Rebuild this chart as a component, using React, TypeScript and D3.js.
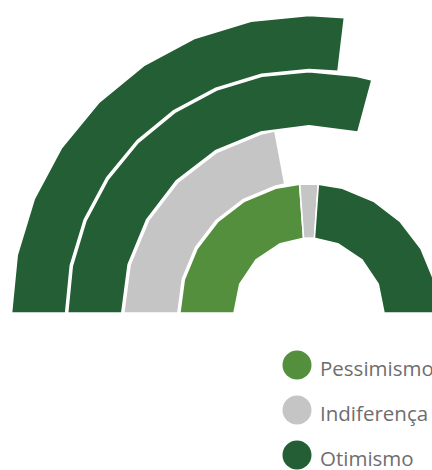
import React from "react";
import * as d3 from "d3";

const seriesNames = ["Pessimismo", "Indiferença", "Otimismo"];
const seriesColors = ["#548f3d", "#c5c5c5", "#235e34"];
const rings = ["Anel 1", "Anel 2", "Anel 3", "Anel 4"];
const pessimismo = [47.7, 0, 0, 0];
const indiferenca = [4.6, 44.1, 0, 0];
const otimismo = [47.7, 0, 58.4, 53.8];

const W = 432;
const H = 470;
const cx = 309;
const cy = 313;

export default function App() {
  const rows = rings.map((r, i) => ({
    ring: r,
    Pessimismo: pessimismo[i],
    "Indiferença": indiferenca[i],
    Otimismo: otimismo[i],
  }));
  const stack = d3.stack<any>().keys(seriesNames);
  const stacked = stack(rows);

  const angle = d3.scaleLinear().domain([0, 100]).range([-Math.PI / 2, Math.PI / 2]);
  const radial = d3.scaleBand<string>().domain(rings).range([75, 297.5]).paddingInner(0.035);

  const line = d3
    .lineRadial<[number, number]>()
    .angle((d) => d[0])
    .radius((d) => d[1])
    .curve(d3.curveLinearClosed);

  function arcPts(a0: number, a1: number, r: number): [number, number][] {
    const stepDeg = r < 100 ? 22.5 : r < 200 ? 15 : 11.25;
    const step = (stepDeg * Math.PI) / 180;
    const pts: [number, number][] = [[a0, r]];
    const start = -Math.PI / 2;
    let k = Math.floor((a0 - start) / step + 1e-9) + 1;
    while (start + k * step < a1 - 1e-6) {
      pts.push([start + k * step, r]);
      k++;
    }
    pts.push([a1, r]);
    return pts;
  }

  function segPath(v0: number, v1: number, ring: string) {
    const a0 = angle(v0);
    const a1 = angle(v1);
    const r0 = radial(ring)!;
    const r1 = r0 + radial.bandwidth();
    const outer = arcPts(a0, a1, r1);
    const inner = arcPts(a0, a1, r0).reverse();
    return line([...outer, ...inner]) || "";
  }

  const legendY = [365, 410, 455];

  return (
    <svg width={W} height={H} style={{ position: "absolute", left: 0, top: 0 }}>
      <rect width={W} height={H} fill="#ffffff" />
      <g transform={`translate(${cx},${cy})`}>
        {stacked.map((s, si) =>
          s.map((d, ri) =>
            d[1] - d[0] > 0 ? (
              <path
                key={`${si}-${ri}`}
                d={segPath(d[0], d[1], rings[ri])}
                fill={seriesColors[si]}
                stroke="#ffffff"
                strokeWidth={1.6}
                strokeLinejoin="round"
              />
            ) : null
          )
        )}
      </g>
      <g>
        {seriesNames.map((n, i) => (
          <g key={n}>
            <circle cx={297} cy={legendY[i]} r={14.5} fill={seriesColors[i]} />
            <text
              x={320}
              y={legendY[i] + 11}
              fontFamily="'Open Sans', sans-serif"
              fontSize={20.5}
              fill="#6e6e6e"
            >
              {n}
            </text>
          </g>
        ))}
      </g>
    </svg>
  );
}
